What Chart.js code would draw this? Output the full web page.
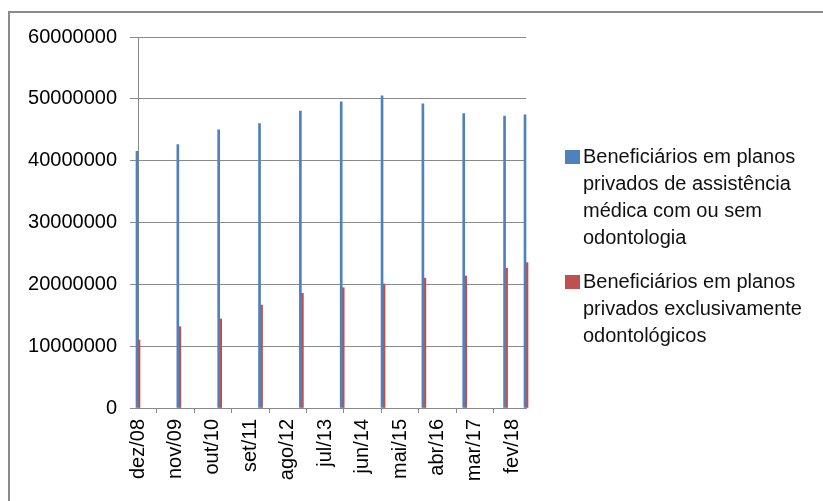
<!DOCTYPE html>
<html>
<head>
<meta charset="utf-8">
<script src="https://cdn.jsdelivr.net/npm/chart.js@4/dist/chart.umd.min.js"></script>
<style>
    html, body { margin: 0; padding: 0; background: #fff; }
    #wrap { width: 823px; height: 501px; }
</style>
</head>
<body>
<div id="wrap"><canvas id="myChart"></canvas></div>
<script>
// eixo mensal de dez/08 a jun/18 (rótulo a cada 11 meses, como no Excel)
const meses = ['jan', 'fev', 'mar', 'abr', 'mai', 'jun', 'jul', 'ago', 'set', 'out', 'nov', 'dez'];
const labels = [];
for (let i = 0; i < 115; i++) {
    const m = (11 + i) % 12;
    const a = 8 + Math.floor((11 + i) / 12);
    labels.push(meses[m] + '/' + String(a).padStart(2, '0'));
}

// datas que têm valor
const datas = ['dez/08', 'dez/09', 'dez/10', 'dez/11', 'dez/12', 'dez/13', 'dez/14', 'dez/15', 'dez/16', 'dez/17', 'jun/18'];

const medica = [41500000, 42600000, 45000000, 46000000, 48000000, 49500000, 50500000, 49200000, 47600000, 47200000, 47400000];
const odonto = [11000000, 13150000, 14400000, 16650000, 18550000, 19450000, 20050000, 21000000, 21350000, 22600000, 23500000];

const yTicks = [0, 10000000, 20000000, 30000000, 40000000, 50000000, 60000000];

const legendText = [
    ['Beneficiários em planos', 'privados de assistência', 'médica com ou sem', 'odontologia'],
    ['Beneficiários em planos', 'privados exclusivamente', 'odontológicos']
];

function porMes(valores) {
    return labels.map(l => {
        const i = datas.indexOf(l);
        return i >= 0 ? valores[i] : null;
    });
}

const fonte = 'Liberation Sans';

const data = {
    labels: labels,
    datasets: [
        {
            label: legendText[0].join(' '),
            backgroundColor: '#4F81BD',
            data: porMes(medica),
            barThickness: 2,
            clip: false,
        },
        {
            label: legendText[1].join(' '),
            backgroundColor: '#C0504D',
            data: porMes(odonto),
            barThickness: 2,
            clip: false,
        }]
};

// moldura e legenda desenhadas à mão
const extras = {
    id: 'extras',
    beforeDraw(chart) {
        const ctx = chart.ctx;
        ctx.save();
        ctx.strokeStyle = '#8a8a8a';
        ctx.lineWidth = 2;
        ctx.strokeRect(9, 12, 900, 600);
        ctx.restore();
    },
    afterDraw(chart) {
        const ctx = chart.ctx;
        const cores = ['#4F81BD', '#C0504D'];
        const topo = [157, 282];
        ctx.save();
        ctx.font = '20px "' + fonte + '"';
        ctx.textBaseline = 'middle';
        ctx.fillStyle = '#000';
        legendText.forEach((linhas, k) => {
            ctx.fillStyle = cores[k];
            ctx.fillRect(565, topo[k] - 7, 15, 14);
            ctx.fillStyle = '#111';
            linhas.forEach((t, j) => {
                ctx.fillText(t, 583, topo[k] + j * 27);
            });
        });
        ctx.restore();
    }
};

const config = {
    type: 'bar',
    data: data,
    plugins: [extras],
    options: {
        responsive: true,
        maintainAspectRatio: false,
        animation: false,
        layout: { padding: { left: 0, top: 37, right: 297, bottom: 0 } },
        plugins: {
            legend: { display: false },
            tooltip: { enabled: false }
        },
        scales: {
            x: {
                offset: false,
                grid: {
                    display: true,
                    drawOnChartArea: false,
                    drawTicks: true,
                    tickLength: 5,
                    color: '#8a8a8a'
                },
                border: { color: '#8a8a8a' },
                ticks: {
                    autoSkip: false,
                    maxRotation: 90,
                    minRotation: 90,
                    padding: 6,
                    color: '#000',
                    font: { family: fonte, size: 20 },
                    callback: function (v, i) {
                        return i % 11 === 0 ? labels[i] : null;
                    }
                },
                afterFit(scale) { scale.height = 93; }
            },
            y: {
                min: 0,
                max: 60000000,
                afterBuildTicks(scale) { scale.ticks = yTicks.map(v => ({ value: v })); },
                grid: {
                    color: '#8a8a8a',
                    tickLength: 8
                },
                border: { color: '#8a8a8a' },
                ticks: {
                    padding: 13,
                    color: '#000',
                    font: { family: fonte, size: 20 },
                    callback: v => String(v)
                },
                afterFit(scale) { scale.width = 138; }
            }
        }
    }
};

const chart = new Chart(document.getElementById('myChart'), config);
</script>
</body>
</html>
